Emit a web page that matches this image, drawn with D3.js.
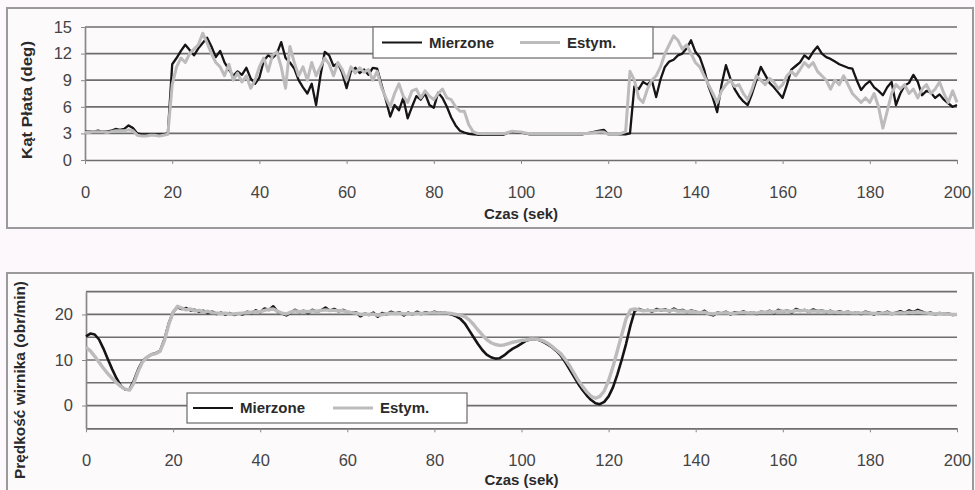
<!DOCTYPE html>
<html><head><meta charset="utf-8">
<script src="https://cdn.jsdelivr.net/npm/d3@7"></script>
<style>
html,body{margin:0;padding:0;background:#fcf8fb;}
svg{display:block;font-family:"Liberation Sans",Arial,sans-serif;}
</style></head>
<body><svg id="c" width="975" height="490"></svg>
<script>
// ---- data (1 sample per second, t = 0..200 s) ----
const seriesNames = ["Mierzone", "Estym."];
const xTicks = [0,20,40,60,80,100,120,140,160,180,200];
const topYTicks = [0,3,6,9,12,15];
const botYGrid = [0,5,10,15,20,25];
const botYLabels = [0,10,20];
const topTitle = "Kąt Płata (deg)";
const botTitle = "Prędkość wirnika (obr/min)";
const xTitle = "Czas (sek)";

const topMeasured = [
3.2,3.2,3.2,3.3,3.2,3.2,3.3,3.5,3.4,3.5,
3.9,3.6,3.0,2.9,2.9,2.9,2.9,2.9,2.9,3.0,
10.8,11.5,12.3,13.0,12.4,11.8,12.6,13.2,13.8,12.8,
11.6,12.3,11.0,10.2,9.5,10.0,9.6,10.4,9.2,8.6,
9.3,11.2,11.8,11.5,12.0,13.3,11.5,11.0,10.3,9.0,
8.2,7.5,8.6,6.2,9.5,12.2,11.8,10.6,10.9,9.8,
8.1,10.0,10.4,9.8,10.2,9.6,10.4,10.3,8.5,6.8,
4.9,6.2,5.6,7.0,4.7,6.0,7.2,6.8,7.5,6.2,
5.9,7.6,7.0,6.0,4.8,3.9,3.3,3.1,2.95,2.9,
2.85,2.85,2.85,2.85,2.85,2.85,2.85,3.1,3.2,3.15,
3.1,3.0,2.9,2.9,2.9,2.9,2.9,2.9,2.9,2.9,
2.9,2.9,2.9,2.9,2.9,3.0,3.1,3.2,3.3,3.4,
2.9,2.9,2.9,2.9,2.9,3.0,8.3,8.0,8.8,8.5,
9.0,7.1,9.1,10.5,11.1,11.3,11.8,12.0,12.6,13.5,
12.2,11.6,10.2,8.3,7.0,5.4,8.5,10.7,9.2,8.0,
7.2,6.6,6.2,7.5,9.0,10.5,9.6,8.7,8.2,7.6,
7.0,8.5,10.2,10.6,11.0,11.8,11.4,12.2,12.8,12.0,
11.6,11.4,11.1,10.8,10.6,10.4,10.3,9.0,7.9,8.5,
8.9,8.2,7.8,7.3,8.2,8.8,6.2,7.5,8.4,8.7,
9.6,8.8,7.3,7.8,7.6,7.0,7.4,6.8,6.4,6.0,
6.2];

const topEstimated = [
3.1,3.1,3.2,3.2,3.2,3.1,3.2,3.3,3.3,3.3,
3.4,3.3,2.8,2.7,2.7,2.8,2.8,2.7,2.8,2.9,
8.5,10.5,11.5,11.0,12.0,12.5,13.0,14.3,13.2,12.0,
11.0,10.5,9.5,10.8,9.0,9.8,8.8,9.5,8.1,9.0,
10.5,11.5,10.0,11.8,12.2,10.5,8.1,12.8,11.0,9.5,
10.5,9.0,11.0,9.5,10.5,11.5,10.8,9.5,11.0,10.2,
9.0,10.5,9.8,10.4,9.9,10.2,9.0,10.0,8.2,7.0,
6.0,7.5,8.6,7.2,6.5,7.8,8.0,7.0,7.8,7.2,
6.8,7.5,8.0,7.0,6.8,6.0,5.5,5.5,4.0,3.2,
3.0,2.95,2.95,2.95,2.95,2.95,2.95,3.1,3.25,3.2,
3.15,3.05,2.95,2.95,2.95,2.95,2.95,2.95,2.95,2.95,
2.95,2.95,2.95,2.95,2.95,3.0,3.05,3.1,3.15,3.15,
2.9,2.9,2.9,3.0,3.2,10.0,9.0,7.0,6.5,8.0,
9.0,9.5,10.5,12.0,13.0,14.0,13.5,12.5,13.0,12.0,
11.0,10.5,9.5,8.5,7.5,6.5,7.8,8.5,9.0,8.3,
8.5,7.5,6.8,8.0,9.5,9.0,8.5,9.2,8.8,8.0,
8.5,9.5,10.0,9.5,10.2,11.0,10.5,11.0,10.0,9.5,
9.0,8.0,9.0,8.5,9.5,8.5,7.5,7.0,6.5,7.0,
6.5,7.5,6.0,3.6,5.5,7.5,8.5,8.0,8.5,7.5,
8.0,7.0,8.0,8.5,7.5,8.0,8.8,7.5,6.5,7.8,
6.5];

const botMeasured = [
15.2,15.8,15.6,14.5,12.5,10.2,8.0,6.0,4.3,3.5,
3.6,5.5,8.0,9.8,10.6,11.2,11.5,12.0,14.5,18.0,
20.5,21.6,21.2,21.4,20.9,21.0,20.6,20.8,20.3,20.6,
20.1,20.4,20.0,20.3,19.9,20.2,20.0,20.6,20.3,20.9,
20.5,21.3,21.0,21.8,20.6,20.2,19.8,20.4,21.0,20.5,
20.8,20.3,21.0,20.6,20.9,21.5,20.8,21.2,20.7,21.0,
20.6,20.3,20.5,19.6,20.2,19.9,20.4,19.5,20.3,20.0,
20.6,20.2,20.5,19.8,20.4,20.0,20.6,20.1,20.5,20.2,
20.6,20.3,20.5,20.2,20.0,19.6,19.0,18.0,16.5,15.0,
13.5,12.2,11.2,10.6,10.3,10.4,11.0,11.8,12.5,13.0,
13.6,14.2,14.5,14.6,14.4,14.0,13.4,12.8,12.0,11.0,
9.6,8.0,6.4,4.8,3.4,2.2,1.2,0.5,0.3,0.8,
2.0,4.0,6.8,10.0,13.5,17.5,20.8,21.2,20.8,21.0,
20.6,21.2,20.9,21.1,20.7,21.3,20.8,21.0,20.5,20.9,
20.6,20.3,20.8,20.1,19.8,20.4,20.2,20.6,20.0,20.5,
20.3,20.7,20.2,20.5,20.1,20.6,20.4,20.8,20.3,21.0,
20.6,20.9,20.4,21.2,20.8,21.0,20.6,21.1,20.7,20.9,
20.5,20.8,20.3,20.7,20.4,20.6,20.2,20.5,20.1,20.6,
20.3,20.0,20.5,20.2,20.6,20.1,20.4,20.7,20.3,20.9,
20.5,21.0,20.6,20.2,20.4,20.0,20.3,20.1,20.2,19.9,
20.0];

const botEstimated = [
12.8,12.0,10.8,9.5,8.2,7.0,6.0,5.0,4.2,3.6,
3.4,5.0,7.6,9.6,10.6,11.2,11.4,11.9,14.2,17.8,
20.5,21.8,21.4,21.0,21.2,20.8,20.9,20.5,20.7,20.4,
20.3,20.2,20.3,20.1,20.1,20.2,20.3,20.4,20.5,20.6,
20.6,20.9,21.1,21.2,20.7,20.3,20.1,20.5,20.8,20.6,
20.7,20.6,20.8,20.7,20.9,21.0,20.9,20.9,20.8,20.8,
20.6,20.4,20.3,20.0,20.1,20.0,20.1,19.8,20.0,20.1,
20.3,20.2,20.3,20.1,20.2,20.1,20.3,20.2,20.3,20.3,
20.4,20.3,20.4,20.3,20.2,20.0,19.8,19.5,18.8,17.8,
16.6,15.5,14.5,13.8,13.4,13.2,13.3,13.6,13.9,14.1,
14.3,14.4,14.6,14.6,14.5,14.2,13.7,13.0,12.2,11.4,
10.2,8.8,7.2,5.6,4.2,3.0,2.0,1.6,2.0,3.2,
5.5,8.5,12.0,15.5,19.0,21.0,21.2,21.0,20.8,20.9,
20.8,20.9,21.0,20.9,20.8,21.0,20.7,20.8,20.6,20.7,
20.5,20.4,20.5,20.2,20.1,20.3,20.3,20.4,20.2,20.3,
20.4,20.5,20.3,20.4,20.3,20.5,20.5,20.6,20.5,20.7,
20.7,20.8,20.6,20.9,20.8,20.9,20.7,20.8,20.7,20.8,
20.6,20.6,20.5,20.5,20.4,20.5,20.3,20.4,20.3,20.4,
20.3,20.2,20.3,20.3,20.4,20.2,20.3,20.4,20.3,20.5,
20.4,20.6,20.4,20.3,20.2,20.1,20.2,20.1,20.1,20.0,
20.0];

// ---- drawing ----
const svg = d3.select("#c");
const FONT = "'Liberation Sans', Arial, sans-serif";
const gridColor = "#6e6e6e";
const measColor = "#151515";
const estColor = "#bcbcbc";

function panel(cfg) {
  const g = svg.append("g");
  // outer frame
  g.append("rect").attr("x", cfg.frame[0]).attr("y", cfg.frame[1])
    .attr("width", cfg.frame[2]).attr("height", cfg.frame[3])
    .attr("fill", "#fdfafc").attr("stroke", "#9a9a9a").attr("stroke-width", 2);

  const x = d3.scaleLinear().domain([0, 200]).range([cfg.x0, cfg.x1]);
  const y = d3.scaleLinear().domain(cfg.yDomain).range([cfg.yBottom, cfg.yTop]);

  // grid
  g.append("g").selectAll("line").data(cfg.grid).join("line")
    .attr("x1", cfg.x0).attr("x2", cfg.x1)
    .attr("y1", d => y(d)).attr("y2", d => y(d))
    .attr("stroke", gridColor).attr("stroke-width", 1.7);

  // x axis
  const xa = g.append("g").attr("transform", `translate(0,${cfg.yBottom})`)
    .call(d3.axisBottom(x).tickValues(xTicks).tickSize(4).tickPadding(22).tickSizeOuter(0));
  xa.select(".domain").attr("stroke", gridColor).attr("stroke-width", 1.7);
  xa.selectAll(".tick line").attr("stroke", "#888");
  xa.selectAll("text").attr("font-family", FONT).attr("font-size", 16.5).attr("fill", "#444");

  // y axis
  const ya = g.append("g").attr("transform", `translate(${cfg.x0},0)`)
    .call(d3.axisLeft(y).tickValues(cfg.yTicks).tickSize(4).tickPadding(9).tickSizeOuter(0));
  ya.select(".domain").attr("stroke", "#888").attr("stroke-width", 1.7);
  ya.selectAll(".tick line").attr("stroke", "#888");
  ya.selectAll("text").attr("font-family", FONT).attr("font-size", 16.5).attr("fill", "#444");

  // titles
  g.append("text").attr("x", (cfg.x0 + cfg.x1) / 2).attr("y", cfg.xTitleY)
    .attr("text-anchor", "middle").attr("font-family", FONT).attr("font-weight", "bold")
    .attr("font-size", 15).attr("fill", "#2a2a2a").text(xTitle);
  g.append("text")
    .attr("transform", `translate(${cfg.yTitleX},${cfg.yTitleY}) rotate(-90)`)
    .attr("text-anchor", "middle").attr("font-family", FONT).attr("font-weight", "bold")
    .attr("font-size", cfg.yTitleSize).attr("fill", "#2a2a2a")
    .attr("textLength", cfg.yTitleLen).attr("lengthAdjust", "spacingAndGlyphs")
    .text(cfg.yTitle);

  // lines
  const line = d3.line().x((d, i) => x(i)).y(d => y(d));
  g.append("path").datum(cfg.meas).attr("d", line).attr("fill", "none")
    .attr("stroke", measColor).attr("stroke-width", cfg.mw).attr("stroke-linejoin", "round");
  g.append("path").datum(cfg.est).attr("d", line).attr("fill", "none")
    .attr("stroke", estColor).attr("stroke-width", cfg.ew).attr("stroke-linejoin", "round");

  // legend
  const L = cfg.legend;
  const lg = g.append("g");
  lg.append("rect").attr("x", L[0]).attr("y", L[1]).attr("width", L[2]).attr("height", L[3])
    .attr("fill", "#ffffff").attr("stroke", "#6a6a6a").attr("stroke-width", 1.2);
  const cy = L[1] + L[3] / 2;
  const items = [
    {name: seriesNames[0], color: measColor, w: 2.2, lx: L[0] + cfg.legOff[0]},
    {name: seriesNames[1], color: estColor, w: 3.2, lx: L[0] + cfg.legOff[1]}
  ];
  items.forEach(it => {
    lg.append("line").attr("x1", it.lx).attr("x2", it.lx + 40).attr("y1", cy).attr("y2", cy)
      .attr("stroke", it.color).attr("stroke-width", it.w);
    lg.append("text").attr("x", it.lx + 47).attr("y", cy).attr("dy", "0.35em")
      .attr("font-family", FONT).attr("font-weight", "bold").attr("font-size", 15)
      .attr("fill", "#2a2a2a").text(it.name);
  });
}

panel({
  frame: [7, 8, 966, 220],
  x0: 85, x1: 957, yTop: 27, yBottom: 160,
  yDomain: [0, 15], grid: [3, 6, 9, 12, 15], yTicks: topYTicks,
  xTitleY: 219, yTitleX: 32, yTitleY: 100, yTitle: topTitle, yTitleSize: 15, yTitleLen: 118,
  meas: topMeasured, est: topEstimated, mw: 2.3, ew: 3,
  legend: [373, 27, 280, 31], legOff: [9, 147]
});

panel({
  frame: [7, 273, 966, 230],
  x0: 86, x1: 957, yTop: 291.7, yBottom: 428.3,
  yDomain: [-5, 25], grid: botYGrid, yTicks: botYLabels,
  xTitleY: 485, yTitleX: 25, yTitleY: 380, yTitle: botTitle, yTitleSize: 14, yTitleLen: 198,
  meas: botMeasured, est: botEstimated, mw: 2.6, ew: 3.4,
  legend: [187, 393, 280, 30], legOff: [6, 146]
});
</script></body></html>
